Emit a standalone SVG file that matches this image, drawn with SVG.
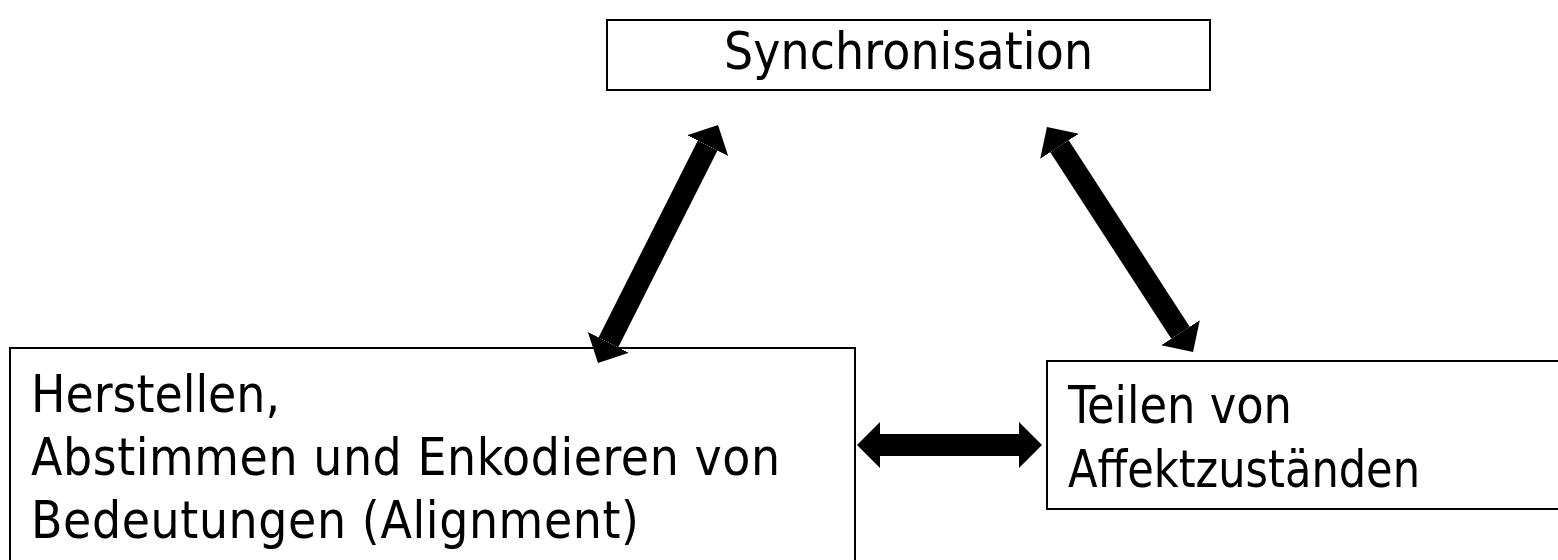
<svg xmlns="http://www.w3.org/2000/svg" width="1558" height="560" viewBox="0 0 1558 560">
<style>
.box{fill:#fff;stroke:#000;stroke-width:2}
.t{font-family:"DejaVu Sans Condensed","DejaVu Sans",sans-serif;font-size:51px;fill:#000}
.arr{stroke:#000;stroke-width:22;fill:none}
</style>
<defs>
<marker id="head" viewBox="0 0 23 46" markerWidth="23" markerHeight="46" refX="0" refY="23" markerUnits="userSpaceOnUse" orient="auto-start-reverse">
<path d="M0,0 L23,23 L0,46 z" fill="#000"/>
</marker>
</defs>
<rect width="1558" height="560" fill="#fff"/>
<g id="sync">
<rect class="box" x="607" y="20" width="603" height="70"/>
<text class="t" x="724" y="69" textLength="369">Synchronisation</text>
</g>
<g id="alignment">
<rect class="box" x="10" y="348" width="845" height="240"/>
<text class="t" x="31" y="412" textLength="249">Herstellen,</text>
<text class="t" x="31" y="475" textLength="749">Abstimmen und Enkodieren von</text>
<text class="t" x="31" y="538" textLength="608">Bedeutungen (Alignment)</text>
</g>
<g id="affekt">
<rect class="box" x="1047" y="361" width="540" height="148"/>
<text class="t" x="1068" y="423" textLength="224" lengthAdjust="spacingAndGlyphs">Teilen von</text>
<text class="t" x="1068" y="487" textLength="352" lengthAdjust="spacingAndGlyphs">Affektzuständen</text>
</g>
<g id="connectors">
<line class="arr" x1="608.35" y1="342.46" x2="707.65" y2="145.54" marker-start="url(#head)" marker-end="url(#head)"/>
<line class="arr" x1="1059.5" y1="146.3" x2="1180.5" y2="332.7" marker-start="url(#head)" marker-end="url(#head)"/>
<line class="arr" x1="880" y1="445" x2="1019" y2="445" marker-start="url(#head)" marker-end="url(#head)"/>
</g>
</svg>
